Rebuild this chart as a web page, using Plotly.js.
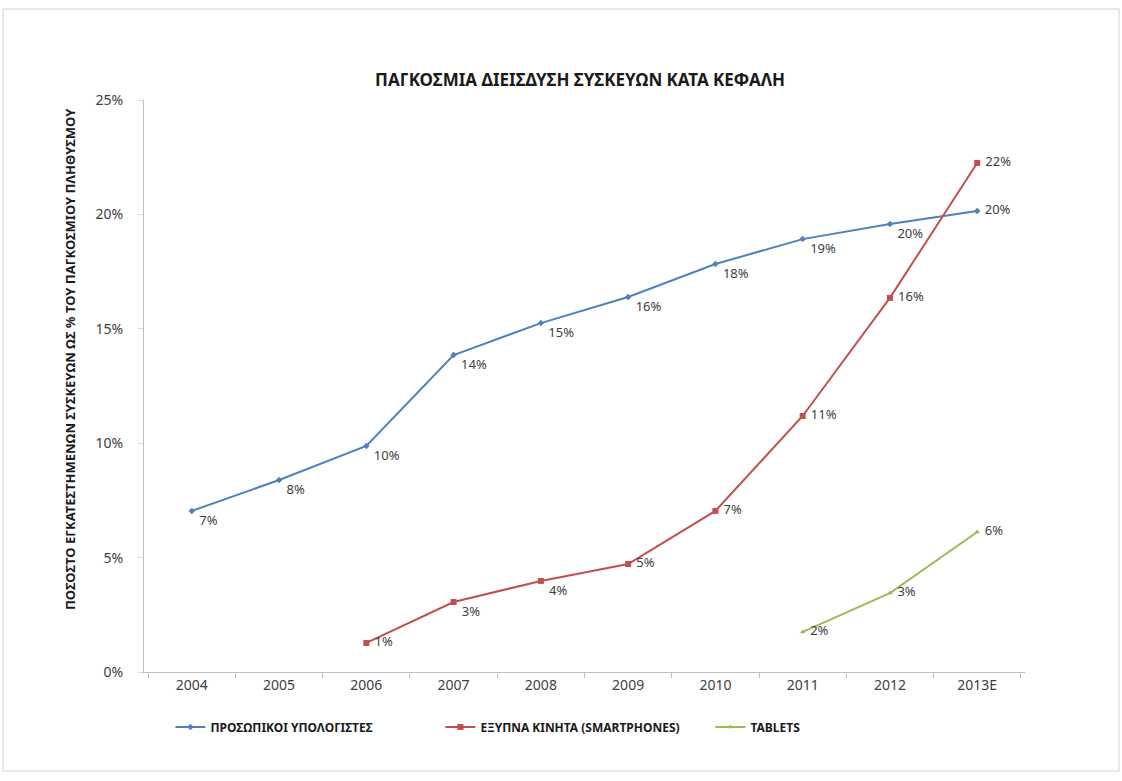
<!DOCTYPE html>
<html>
<head>
<meta charset="utf-8">
<script src="https://cdn.plot.ly/plotly-3.0.1.min.js"></script>
<style>
  html, body { margin: 0; padding: 0; background: #ffffff; }
  #chart { width: 1122px; height: 781px; }
</style>
</head>
<body>
<div id="chart"></div>
<script>
// Categories (years)
const years = ["2004", "2005", "2006", "2007", "2008", "2009", "2010", "2011", "2012", "2013E"];

// Series values (% of world population)
const pcValues = [7.04, 8.39, 9.88, 13.85, 15.25, 16.39, 17.83, 18.92, 19.58, 20.15];
const smartphoneValues = [null, null, 1.27, 3.06, 3.98, 4.72, 7.04, 11.19, 16.35, 22.25];
const tabletValues = [null, null, null, null, null, null, null, 1.75, 3.45, 6.12];

// Series names
const pcName = "ΠΡΟΣΩΠΙΚΟΙ ΥΠΟΛΟΓΙΣΤΕΣ";
const smartphoneName = "ΕΞΥΠΝΑ ΚΙΝΗΤΑ (SMARTPHONES)";
const tabletName = "TABLETS";

// Y ticks
const yTickVals = [0, 5, 10, 15, 20, 25];
const yTickLabels = ["0%", "5%", "10%", "15%", "20%", "25%"];

const FONT = "Noto Sans, Open Sans, Liberation Sans, sans-serif";
const labelFont = { family: FONT, size: 13, color: "#404040" };

const traces = [
  {
    x: years, y: pcValues, name: pcName, type: "scatter", mode: "lines+markers+text",
    line: { color: "#4f81bd", width: 2 },
    marker: { symbol: "diamond", size: 5, color: "#4f81bd" },
    texttemplate: " %{y:.0f}%",
    textposition: ["bottom right","bottom right","bottom right","bottom right","bottom right",
                   "bottom right","bottom right","bottom right","bottom right","middle right"],
    textfont: labelFont, cliponaxis: false, hoverinfo: "x+y"
  },
  {
    x: years, y: smartphoneValues, name: smartphoneName, type: "scatter", mode: "lines+markers+text",
    line: { color: "#c0504d", width: 2 },
    marker: { symbol: "square", size: 6, color: "#c0504d" },
    texttemplate: " %{y:.0f}%",
    textposition: ["middle right","middle right","middle right","bottom right","bottom right",
                   "middle right","middle right","middle right","middle right","middle right"],
    textfont: labelFont, cliponaxis: false, connectgaps: false, hoverinfo: "x+y"
  },
  {
    x: years, y: tabletValues, name: tabletName, type: "scatter", mode: "lines+markers+text",
    line: { color: "#9bbb59", width: 2 },
    marker: { symbol: "triangle-up", size: 5, color: "#9bbb59" },
    texttemplate: " %{y:.0f}%",
    textposition: "middle right",
    textfont: labelFont, cliponaxis: false, connectgaps: false, hoverinfo: "x+y"
  }
];

const layout = {
  width: 1122, height: 781,
  paper_bgcolor: "#ffffff", plot_bgcolor: "#ffffff",
  margin: { l: 144, r: 97, t: 100, b: 109 },
  font: { family: FONT, color: "#404040" },
  title: {
    text: "<b>ΠΑΓΚΟΣΜΙΑ ΔΙΕΙΣΔΥΣΗ ΣΥΣΚΕΥΩΝ ΚΑΤΑ ΚΕΦΑΛΗ</b>",
    font: { family: FONT, size: 17, color: "#1a1a1a" },
    x: 0.517, xanchor: "center", y: 0.898, yanchor: "middle"
  },
  xaxis: {
    type: "category",
    showgrid: false, zeroline: false,
    showline: true, linecolor: "#bfbfbf", linewidth: 1,
    ticks: "outside", tickson: "boundaries", ticklen: 5, tickcolor: "#bfbfbf",
    tickfont: { family: FONT, size: 14, color: "#404040" },
    fixedrange: true
  },
  yaxis: {
    range: [0, 25], tickmode: "array", tickvals: yTickVals, ticktext: yTickLabels,
    showgrid: false, zeroline: false,
    showline: true, linecolor: "#bfbfbf", linewidth: 1,
    ticks: "outside", ticklen: 5, tickcolor: "#d9d9d9",
    ticklabelstandoff: 12,
    tickfont: { family: FONT, size: 14, color: "#404040" },
    fixedrange: true
  },
  showlegend: true,
  legend: {
    orientation: "h", x: 0.03, xanchor: "left", y: -0.096, yanchor: "middle",
    font: { family: FONT, size: 12, color: "#1a1a1a", weight: "bold" },
    itemwidth: 30,
    entrywidth: 225, entrywidthmode: "pixels",
    bgcolor: "rgba(0,0,0,0)"
  },
  annotations: [
    {
      text: "<b>ΠΟΣΟΣΤΟ ΕΓΚΑΤΕΣΤΗΜΕΝΩΝ ΣΥΣΚΕΥΩΝ ΩΣ % ΤΟΥ ΠΑΓΚΟΣΜΙΟΥ ΠΛΗΘΥΣΜΟΥ</b>",
      xref: "paper", yref: "paper",
      x: (70 - 144) / 881, y: (672 - 359) / 572,
      xanchor: "center", yanchor: "middle",
      textangle: -90, showarrow: false,
      font: { family: FONT, size: 13, color: "#1a1a1a" }
    }
  ],
  shapes: [
    {
      type: "rect", xref: "paper", yref: "paper",
      x0: (3 - 144) / 881, x1: (1119 - 144) / 881,
      y0: (672 - 771) / 572, y1: (672 - 9) / 572,
      line: { color: "#d0d0d0", width: 1 }, fillcolor: "rgba(0,0,0,0)", layer: "below"
    }
  ]
};

Plotly.newPlot("chart", traces, layout, { displayModeBar: false, staticPlot: true });
</script>
</body>
</html>
